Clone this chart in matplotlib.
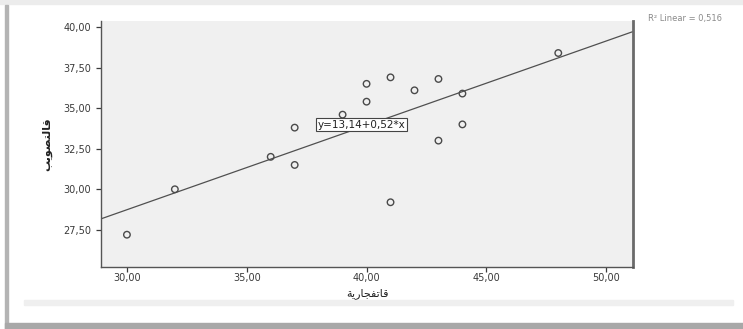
import matplotlib.pyplot as plt
from matplotlib.patches import Rectangle

# scores per player
explosive = [30, 32, 36, 37, 37, 39, 40, 40, 41, 41, 42, 43, 43, 44, 44, 48]
shooting = [27.2, 30.0, 32.0, 33.8, 31.5, 34.6, 36.5, 35.4, 36.9, 29.2,
            36.1, 36.8, 33.0, 35.9, 34.0, 38.4]

intercept = 13.14
slope = 0.52
x_ticks = [30, 35, 40, 45, 50]
y_ticks = [27.5, 30, 32.5, 35, 37.5, 40]

x_label = "قاتفجارية"
y_label = "قالتصويب"
fit_label = "R² Linear = 0,516"

# minimal arabic shaping (matplotlib does no contextual shaping)
FORMS = {
    'ا': ('\uFE8D', '\uFE8E', None, None),
    'ب': ('\uFE8F', '\uFE90', '\uFE91', '\uFE92'),
    'ة': ('\uFE93', '\uFE94', None, None),
    'ت': ('\uFE95', '\uFE96', '\uFE97', '\uFE98'),
    'ج': ('\uFE9D', '\uFE9E', '\uFE9F', '\uFEA0'),
    'ر': ('\uFEAD', '\uFEAE', None, None),
    'ص': ('\uFEB9', '\uFEBA', '\uFEBB', '\uFEBC'),
    'ف': ('\uFED1', '\uFED2', '\uFED3', '\uFED4'),
    'ق': ('\uFED5', '\uFED6', '\uFED7', '\uFED8'),
    'ل': ('\uFEDD', '\uFEDE', '\uFEDF', '\uFEE0'),
    'و': ('\uFEED', '\uFEEE', None, None),
    'ي': ('\uFEF1', '\uFEF2', '\uFEF3', '\uFEF4'),
}


def shape(word):
    out = []
    for i, ch in enumerate(word):
        iso, fin, ini, med = FORMS[ch]
        prev_joins = i > 0 and FORMS[word[i - 1]][2] is not None
        next_joins = ini is not None and i < len(word) - 1
        if prev_joins and next_joins:
            out.append(med)
        elif prev_joins:
            out.append(fin)
        elif next_joins:
            out.append(ini)
        else:
            out.append(iso)
    return ''.join(reversed(out))


plt.rcParams['font.family'] = ['DejaVu Sans']
txt = '#3a3a3a'

fig = plt.figure(figsize=(7.43, 3.29), dpi=100)
fig.patch.set_facecolor('white')

# page frame around the output
fig.patches.append(Rectangle((0, 0.988), 1, 0.012, transform=fig.transFigure,
                             color='#ececec', zorder=0))
fig.patches.append(Rectangle((0.032, 0.073), 0.955, 0.016, transform=fig.transFigure,
                             color='#efefef', zorder=0))
fig.patches.append(Rectangle((0.007, 0.0), 0.004, 0.985, transform=fig.transFigure,
                             color='#b4b4b4', zorder=0))
fig.patches.append(Rectangle((0.007, 0.0), 0.993, 0.018, transform=fig.transFigure,
                             color='#a8a8a8', zorder=0))

ax = fig.add_axes([0.136, 0.188, 0.716, 0.748])
ax.set_facecolor('#f0f0f0')

ax.scatter(explosive, shooting, s=22, facecolors='none', edgecolors='#4a4a4a',
           linewidths=1.0, zorder=3)

ax.set_xlim(28.92, 51.12)
ax.set_ylim(25.2, 40.37)
xs = [ax.get_xlim()[0], ax.get_xlim()[1]]
ax.plot(xs, [intercept + slope * v for v in xs], color='#505050', lw=0.9, zorder=2)

ax.text(39.8, 33.98, 'y=13,14+0,52*x', fontsize=7.5, color='#222222',
        ha='center', va='center', zorder=4,
        bbox=dict(boxstyle='square,pad=0.15', fc='white', ec='#444444', lw=0.8))

ax.set_xticks(x_ticks)
ax.set_yticks(y_ticks)
ax.set_xticklabels([f'{v:.2f}'.replace('.', ',') for v in x_ticks])
ax.set_yticklabels([f'{v:.2f}'.replace('.', ',') for v in y_ticks])
ax.tick_params(axis='both', labelsize=7, colors=txt, length=3.5, width=0.9)
ax.tick_params(axis='x', pad=1)

for side in ['left', 'bottom']:
    ax.spines[side].set_color('#555555')
    ax.spines[side].set_linewidth(1.0)
ax.spines['right'].set_color('#6a6a6a')
ax.spines['right'].set_linewidth(2.0)
ax.spines['top'].set_visible(False)

ax.set_xlabel(shape(x_label), fontsize=8, color='#222222', labelpad=3)
ax.set_ylabel(shape(y_label), fontsize=8, color='#222222', labelpad=8,
              fontweight='bold')

# fit legend in the top right corner
fig.text(0.872, 0.945, fit_label, fontsize=6, color='#8a8a8a',
         ha='left', va='center')

fig.savefig('out.png', dpi=100)
